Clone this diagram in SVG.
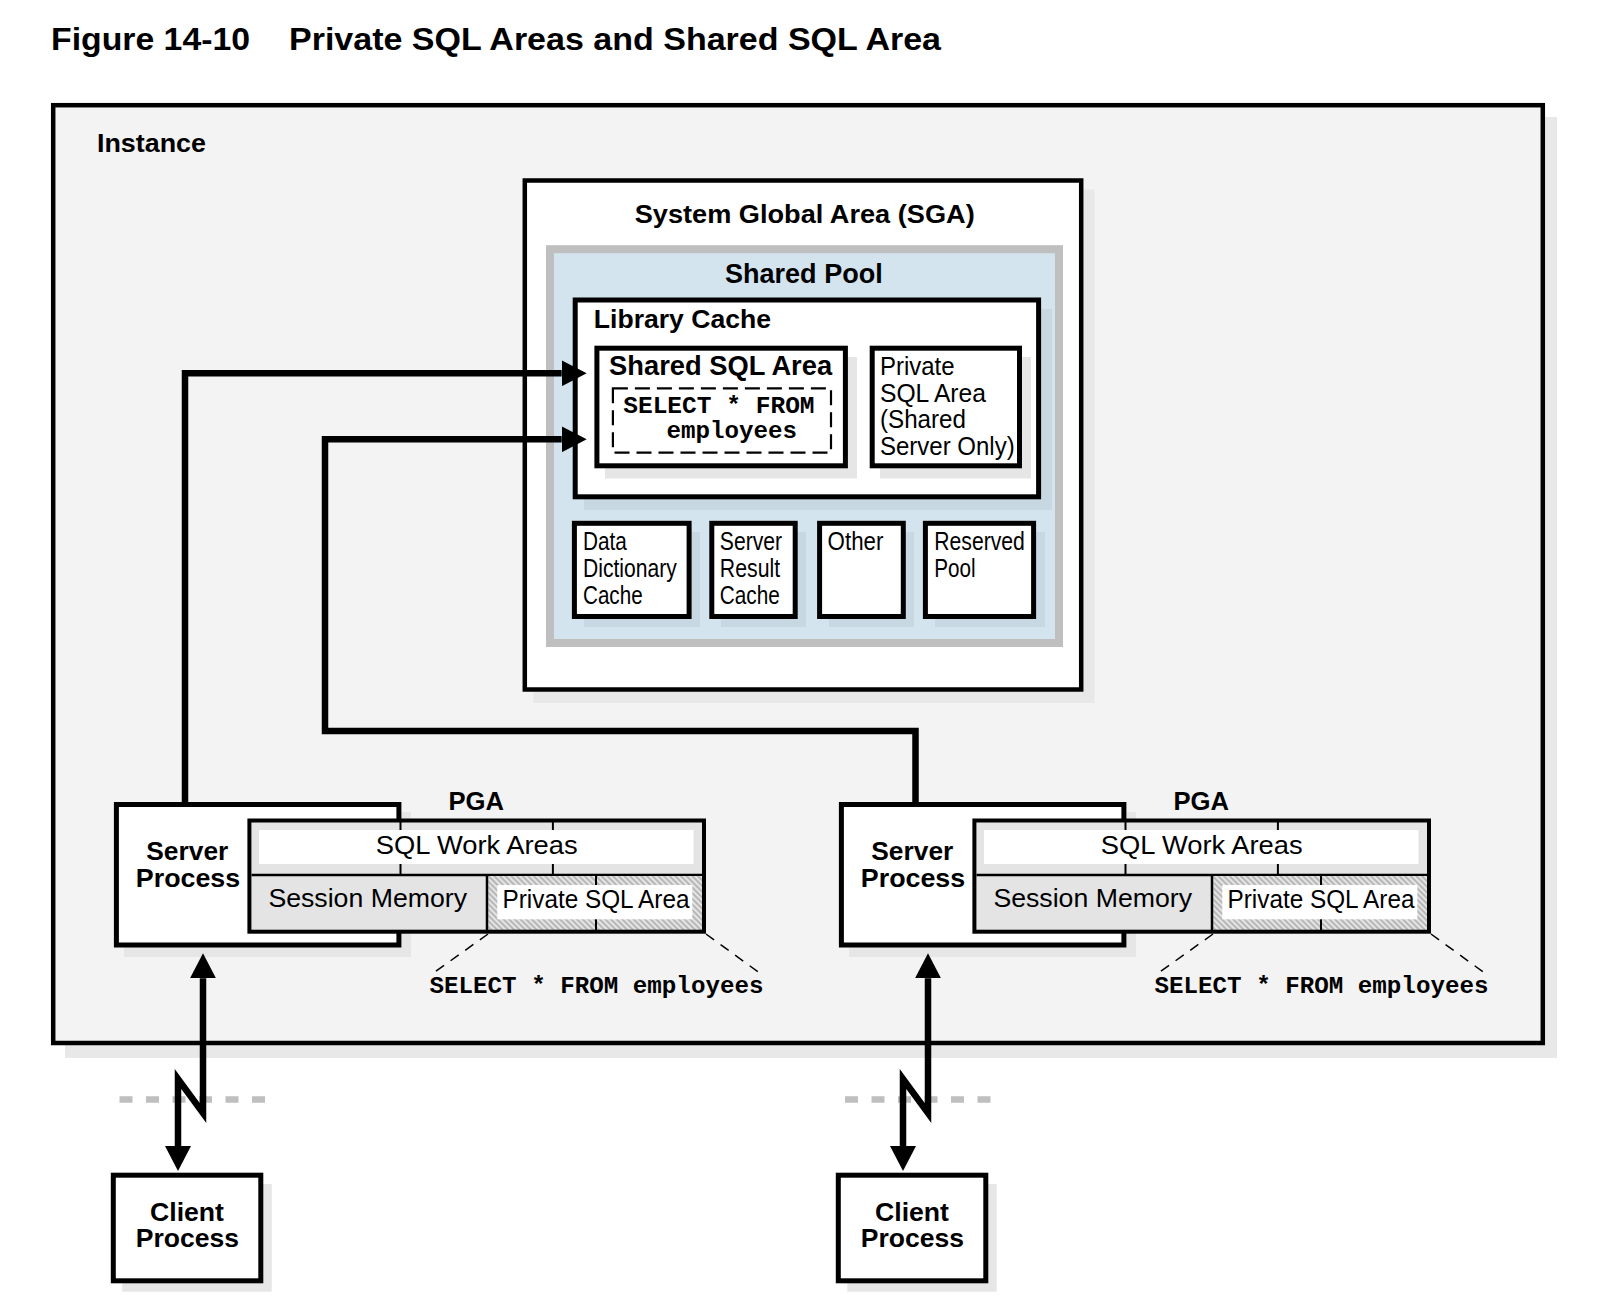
<svg xmlns="http://www.w3.org/2000/svg" width="1602" height="1314" viewBox="0 0 1602 1314">
<style>
.b{font-family:"Liberation Sans",Arial,sans-serif;font-weight:bold;fill:#000}
.r{font-family:"Liberation Sans",Arial,sans-serif;fill:#000}
.m{font-family:"Liberation Mono","Courier New",monospace;font-weight:bold;fill:#000}
.box{fill:#fff;stroke:#000;stroke-width:5}
.sh{fill:#e6e6e6}
.shw{fill:#e8e8e8}
.shb{fill:#c8d8e2}
.conn{fill:none;stroke:#000;stroke-width:6.5;stroke-linejoin:miter;stroke-miterlimit:10}
.lead{fill:none;stroke:#000;stroke-width:1.5;stroke-dasharray:10 8}
.net{fill:none;stroke:#bfbfbf;stroke-width:6.5;stroke-dasharray:13 13.5}
.thin{stroke:#000;stroke-width:2}
.pga{fill:#e4e4e4}
</style>
<defs>
<marker id="ah" markerUnits="userSpaceOnUse" markerWidth="25" markerHeight="26" viewBox="0 0 25 26" refX="0" refY="13" orient="auto-start-reverse">
<path d="M0,0 L25,13 L0,26 Z" fill="#000"/>
</marker>
<pattern id="hatch" patternUnits="userSpaceOnUse" width="4" height="4" patternTransform="rotate(-45)">
<rect width="4" height="4" fill="#e4e4e4"/>
<line x1="2" y1="0" x2="2" y2="4" stroke="#999" stroke-width="1.2"/>
</pattern>
</defs>
<rect width="1602" height="1314" fill="#fff"/>

<g id="title">
<text class="b" x="51" y="49.5" font-size="32" textLength="199" lengthAdjust="spacingAndGlyphs">Figure 14-10</text>
<text class="b" x="289" y="49.5" font-size="32" textLength="652" lengthAdjust="spacingAndGlyphs">Private SQL Areas and Shared SQL Area</text>
</g>

<g id="instance">
<rect x="65" y="117" width="1492" height="941" class="shw"/>
<rect x="53.2" y="105.2" width="1489.6" height="937.8" fill="#f3f3f3" stroke="#000" stroke-width="4.5"/>
<text class="b" x="97" y="152" font-size="26" textLength="109" lengthAdjust="spacingAndGlyphs">Instance</text>
</g>

<g id="sga">
<rect x="533.5" y="189.5" width="561" height="513.5" class="shw"/>
<rect x="524.8" y="180.5" width="556.4" height="509" fill="#fff" stroke="#000" stroke-width="4.5"/>
<text class="b" x="634.7" y="223.3" font-size="26.5" textLength="340" lengthAdjust="spacingAndGlyphs">System Global Area (SGA)</text>
</g>

<g id="shared-pool">
<rect x="550" y="249.2" width="509" height="393.8" fill="#d3e4ee" stroke="#bfbfbf" stroke-width="8"/>
<text class="b" x="725" y="283.3" font-size="27" textLength="157.7" lengthAdjust="spacingAndGlyphs">Shared Pool</text>
</g>

<g id="library-cache">
<rect x="584" y="309" width="468" height="201" class="shb"/>
<rect x="575.2" y="300" width="463.4" height="196.8" class="box"/>
<text class="b" x="593.8" y="328.3" font-size="26.5" textLength="177.2" lengthAdjust="spacingAndGlyphs">Library Cache</text>
</g>

<g id="shared-sql-area">
<rect x="605" y="357" width="252" height="121.5" class="sh"/>
<rect x="596.9" y="348.2" width="248.5" height="117.6" class="box"/>
<text class="b" x="609.1" y="375" font-size="27" textLength="223" lengthAdjust="spacingAndGlyphs">Shared SQL Area</text>
<rect x="612.9" y="388.3" width="218.1" height="64.4" fill="none" stroke="#000" stroke-width="2.2" stroke-dasharray="15 7"/>
<text class="m" x="623.2" y="413.3" font-size="24" textLength="191.4" lengthAdjust="spacingAndGlyphs">SELECT * FROM</text>
<text class="m" x="666.5" y="438.3" font-size="24" textLength="130.5" lengthAdjust="spacingAndGlyphs">employees</text>
</g>

<g id="private-sql-area-shared">
<rect x="880" y="357" width="151" height="121.5" class="sh"/>
<rect x="872.2" y="348.2" width="147.3" height="117.6" class="box"/>
<text class="r" x="880" y="375" font-size="25" textLength="74.6" lengthAdjust="spacingAndGlyphs">Private</text>
<text class="r" x="880" y="401.7" font-size="25" textLength="106" lengthAdjust="spacingAndGlyphs">SQL Area</text>
<text class="r" x="880" y="428.3" font-size="25" textLength="86" lengthAdjust="spacingAndGlyphs">(Shared</text>
<text class="r" x="880" y="455" font-size="25" textLength="134.7" lengthAdjust="spacingAndGlyphs">Server Only)</text>
</g>

<g id="data-dictionary-cache">
<rect x="584" y="532" width="116" height="95" class="shb"/>
<rect x="574.4" y="523.3" width="114.7" height="93.2" class="box"/>
<text class="r" x="583" y="549.5" font-size="25.5" textLength="43.8" lengthAdjust="spacingAndGlyphs">Data</text>
<text class="r" x="583" y="576.5" font-size="25.5" textLength="93.7" lengthAdjust="spacingAndGlyphs">Dictionary</text>
<text class="r" x="583" y="603.5" font-size="25.5" textLength="59.6" lengthAdjust="spacingAndGlyphs">Cache</text>
</g>

<g id="server-result-cache">
<rect x="721" y="532" width="85" height="95" class="shb"/>
<rect x="711.8" y="523.3" width="83.4" height="93.2" class="box"/>
<text class="r" x="719.8" y="549.5" font-size="25.5" textLength="62.3" lengthAdjust="spacingAndGlyphs">Server</text>
<text class="r" x="719.8" y="576.5" font-size="25.5" textLength="60.3" lengthAdjust="spacingAndGlyphs">Result</text>
<text class="r" x="719.8" y="603.5" font-size="25.5" textLength="60" lengthAdjust="spacingAndGlyphs">Cache</text>
</g>

<g id="other">
<rect x="829" y="532" width="85" height="95" class="shb"/>
<rect x="819.6" y="523.3" width="83.7" height="93.2" class="box"/>
<text class="r" x="827.6" y="549.5" font-size="25.5" textLength="55.8" lengthAdjust="spacingAndGlyphs">Other</text>
</g>

<g id="reserved-pool">
<rect x="935" y="532" width="110" height="95" class="shb"/>
<rect x="925.4" y="523.3" width="108.2" height="93.2" class="box"/>
<text class="r" x="934.3" y="549.5" font-size="25.5" textLength="90.6" lengthAdjust="spacingAndGlyphs">Reserved</text>
<text class="r" x="934.3" y="576.5" font-size="25.5" textLength="41.4" lengthAdjust="spacingAndGlyphs">Pool</text>
</g>

<g id="network">
<line x1="119.5" y1="1099.5" x2="265" y2="1099.5" class="net"/>
<line x1="845" y1="1099.5" x2="991" y2="1099.5" class="net"/>
</g>

<g id="server-process-1">
<rect x="124" y="812" width="287" height="145" class="sh"/>
<rect x="116.4" y="804.5" width="282.5" height="140.5" class="box"/>
<text class="b" x="146.3" y="860" font-size="26" textLength="82" lengthAdjust="spacingAndGlyphs">Server</text>
<text class="b" x="135.8" y="886.7" font-size="26" textLength="104.4" lengthAdjust="spacingAndGlyphs">Process</text>
</g>

<g id="pga-1">
<text class="b" x="448.5" y="810" font-size="25" textLength="55.5" lengthAdjust="spacingAndGlyphs">PGA</text>
<rect x="249.4" y="820.5" width="454.6" height="111.2" class="pga"/>
<line x1="400.5" y1="822" x2="400.5" y2="875" class="thin"/>
<line x1="552.9" y1="822" x2="552.9" y2="875" class="thin"/>
<rect x="259" y="830" width="434.5" height="34" fill="#fff"/>
<text class="r" x="375.7" y="854.3" font-size="26" textLength="202" lengthAdjust="spacingAndGlyphs">SQL Work Areas</text>
<line x1="251.5" y1="875" x2="702" y2="875" stroke="#000" stroke-width="2.5"/>
<text class="r" x="268.4" y="906.7" font-size="26" textLength="198.6" lengthAdjust="spacingAndGlyphs">Session Memory</text>
<rect x="488.3" y="876" width="213.7" height="54" fill="url(#hatch)"/>
<line x1="487" y1="875" x2="487" y2="931.7" stroke="#000" stroke-width="2.5"/>
<line x1="596" y1="876" x2="596" y2="930" class="thin"/>
<rect x="497.3" y="885" width="195" height="34.3" fill="#fff"/>
<text class="r" x="502.5" y="907.5" font-size="25" textLength="187" lengthAdjust="spacingAndGlyphs">Private SQL Area</text>
<rect x="249.4" y="820.5" width="454.6" height="111.2" fill="none" stroke="#000" stroke-width="4"/>
<path d="M488,934 L432,974 M706,934 L761,974" class="lead"/>
<text class="m" x="429.5" y="993.3" font-size="24.2" textLength="334" lengthAdjust="spacingAndGlyphs">SELECT * FROM employees</text>
</g>

<g id="client-process-1">
<rect x="122.3" y="1184" width="149.4" height="107.7" class="sh"/>
<rect x="113.3" y="1175.2" width="147.5" height="105.6" class="box"/>
<text class="b" x="150" y="1220.7" font-size="26" textLength="74" lengthAdjust="spacingAndGlyphs">Client</text>
<text class="b" x="135.7" y="1247.3" font-size="26" textLength="103.3" lengthAdjust="spacingAndGlyphs">Process</text>
</g>

<g id="server-process-2">
<rect x="849" y="812" width="287" height="145" class="sh"/>
<rect x="841.4" y="804.5" width="282.5" height="140.5" class="box"/>
<text class="b" x="871.3" y="860" font-size="26" textLength="82" lengthAdjust="spacingAndGlyphs">Server</text>
<text class="b" x="860.8" y="886.7" font-size="26" textLength="104.4" lengthAdjust="spacingAndGlyphs">Process</text>
</g>

<g id="pga-2">
<text class="b" x="1173.5" y="810" font-size="25" textLength="55.5" lengthAdjust="spacingAndGlyphs">PGA</text>
<rect x="974.4" y="820.5" width="454.6" height="111.2" class="pga"/>
<line x1="1125.5" y1="822" x2="1125.5" y2="875" class="thin"/>
<line x1="1277.9" y1="822" x2="1277.9" y2="875" class="thin"/>
<rect x="984" y="830" width="434.5" height="34" fill="#fff"/>
<text class="r" x="1100.7" y="854.3" font-size="26" textLength="202" lengthAdjust="spacingAndGlyphs">SQL Work Areas</text>
<line x1="976.5" y1="875" x2="1427" y2="875" stroke="#000" stroke-width="2.5"/>
<text class="r" x="993.4" y="906.7" font-size="26" textLength="198.6" lengthAdjust="spacingAndGlyphs">Session Memory</text>
<rect x="1213.3" y="876" width="213.7" height="54" fill="url(#hatch)"/>
<line x1="1212" y1="875" x2="1212" y2="931.7" stroke="#000" stroke-width="2.5"/>
<line x1="1321" y1="876" x2="1321" y2="930" class="thin"/>
<rect x="1222.3" y="885" width="195" height="34.3" fill="#fff"/>
<text class="r" x="1227.5" y="907.5" font-size="25" textLength="187" lengthAdjust="spacingAndGlyphs">Private SQL Area</text>
<rect x="974.4" y="820.5" width="454.6" height="111.2" fill="none" stroke="#000" stroke-width="4"/>
<path d="M1213,934 L1157,974 M1431,934 L1486,974" class="lead"/>
<text class="m" x="1154.5" y="993.3" font-size="24.2" textLength="334" lengthAdjust="spacingAndGlyphs">SELECT * FROM employees</text>
</g>

<g id="client-process-2">
<rect x="847.3" y="1184" width="149.4" height="107.7" class="sh"/>
<rect x="838.3" y="1175.2" width="147.5" height="105.6" class="box"/>
<text class="b" x="875" y="1220.7" font-size="26" textLength="74" lengthAdjust="spacingAndGlyphs">Client</text>
<text class="b" x="860.7" y="1247.3" font-size="26" textLength="103.3" lengthAdjust="spacingAndGlyphs">Process</text>
</g>

<g id="connectors">
<path d="M185,803 V373.3 H561.7" class="conn" marker-end="url(#ah)"/>
<path d="M915.5,803 V731 H325 V439.3 H561.7" class="conn" marker-end="url(#ah)"/>
<path d="M203,978.3 V1113 L178,1079 V1146" class="conn" marker-start="url(#ah)" marker-end="url(#ah)"/>
<path d="M928,978.3 V1113 L903,1079 V1146" class="conn" marker-start="url(#ah)" marker-end="url(#ah)"/>
</g>
</svg>
